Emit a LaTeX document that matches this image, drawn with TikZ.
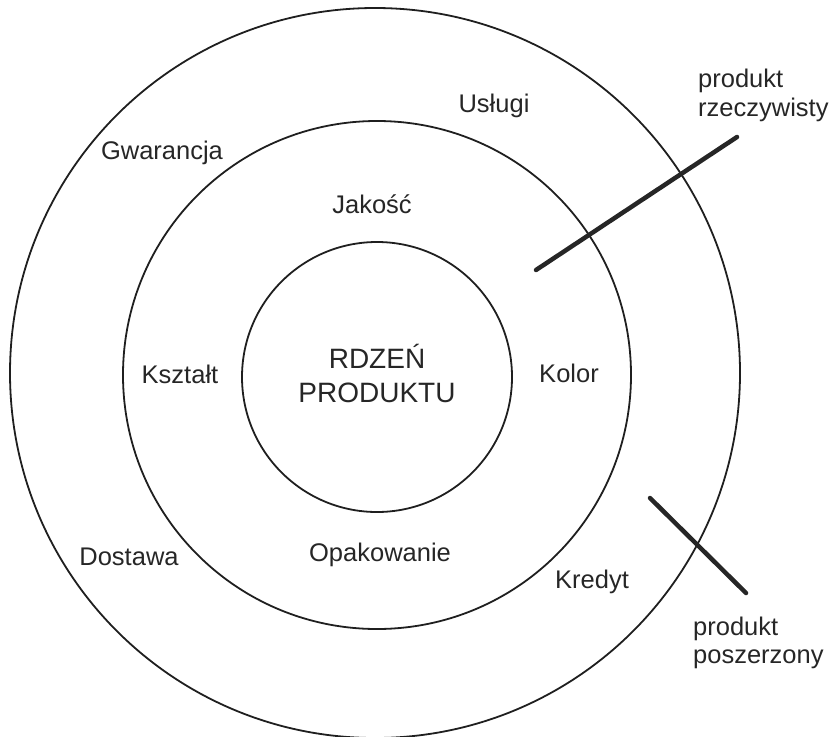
\documentclass[tikz,border=0pt]{standalone}
\usepackage{fontspec}
\setmainfont{Liberation Sans}
\usetikzlibrary{shapes.geometric,calc,positioning}

\begin{document}
\begin{tikzpicture}
	[x=1pt,y=-1pt,every node/.style={text=black!85,inner sep=0pt,anchor=base,
		font=\fontsize{25.5}{28}\selectfont},
	ring/.style={shape=circle,draw=black!88,line width=1.8pt,minimum size=#1,anchor=center},
	bar/.style={draw=black!85,line width=4.5pt,line cap=round},
	core/.style={font=\fontsize{28}{34}\selectfont}]

	\useasboundingbox (0,0) rectangle (834,736);

	\node[ring=730pt] (poszerz) at (375,373) {};
	\node[ring=508pt] (rzecz) at (377,375) {};
	\node[ring=270pt] (rdzen) at (377,377) {};

	\node[core] (rdz1) at (377,368) {RDZEŃ};
	\node[core] (rdz2) at (377,402) {PRODUKTU};

	\foreach \name/\x/\y/\txt in {jak/372/213/Jakość,ksz/180/383/Kształt,
		kol/569/382/Kolor,opa/380/561/Opakowanie,usl/494/112/Usługi,
		gwa/162/159/Gwarancja,dos/129/565/Dostawa,kre/592/588/Kredyt}{
		\node (\name) at (\x,\y) {\txt};
	}

	\node[anchor=base west] (rz1) at (698,87) {produkt};
	\node[anchor=base west] (rz2) at (698,116) {rzeczywisty};
	\node[anchor=base west] (po1) at (693,635) {produkt};
	\node[anchor=base west] (po2) at (693,663) {poszerzony};

	\coordinate (rza) at (536,270);
	\coordinate (rzb) at (737,137);
	\coordinate (poa) at (650,498);
	\coordinate (pob) at (746,593);
	\draw[bar] (rza) -- (rzb);
	\draw[bar] (poa) -- (pob);
\end{tikzpicture}
\end{document}
